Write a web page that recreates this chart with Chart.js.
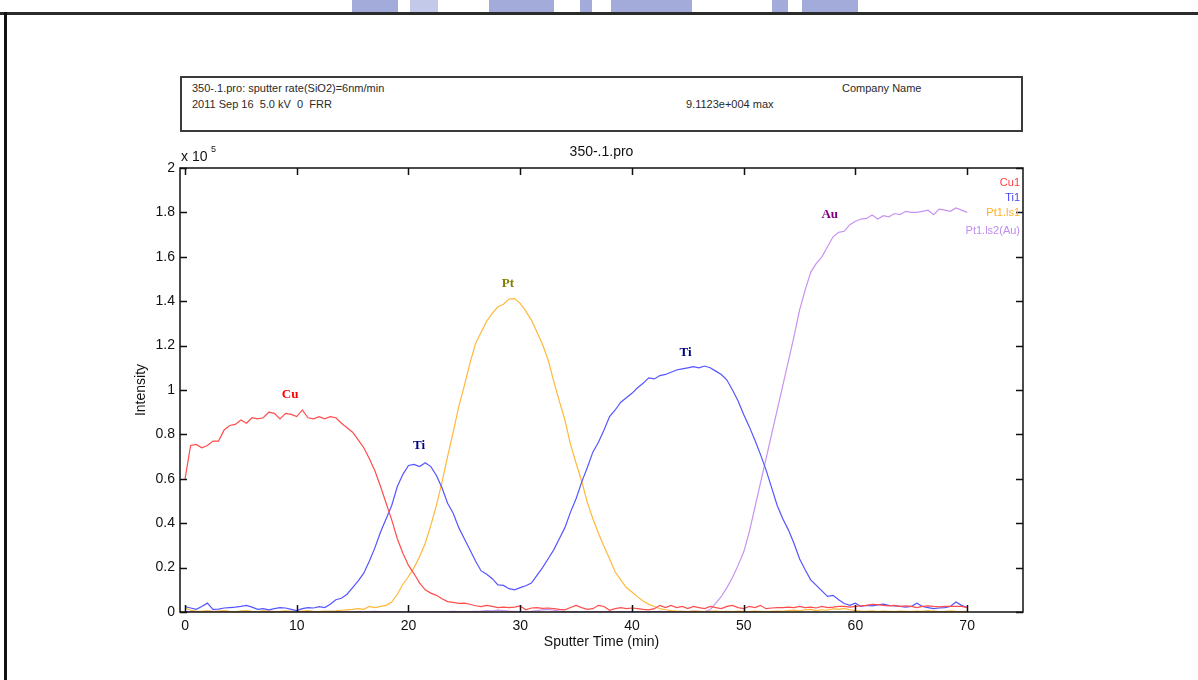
<!DOCTYPE html>
<html>
<head>
<meta charset="utf-8">
<script src="https://cdn.jsdelivr.net/npm/chart.js@4.4.1/dist/chart.umd.min.js"></script>
<style>
  html, body { margin: 0; padding: 0; background: #fff; }
  body { width: 1198px; height: 680px; position: relative; overflow: hidden;
         font-family: "Liberation Sans", Arial, sans-serif; }
  #frame-top { position: absolute; left: 0; top: 12px; width: 1198px; height: 3px; background: #2b2b2b; }
  #frame-left { position: absolute; left: 4px; top: 12px; width: 3px; height: 668px; background: #111; }
  .wm { position: absolute; top: 0; height: 12px; background: #a3abdb; }
  #info { position: absolute; left: 180px; top: 76px; width: 843px; height: 56px; box-sizing: border-box;
          border: 2px solid #3a3a3a; font-size: 11px; color: #2a2a2a; z-index: 2; background: #fff; }
  #info span { position: absolute; white-space: nowrap; line-height: 1; }
  #chart { position: absolute; left: 0; top: 0; }
</style>
</head>
<body>
<div class="wm" style="left:352px;width:46px"></div>
<div class="wm" style="left:410px;width:28px;background:#c3c9e8"></div>
<div class="wm" style="left:489px;width:65px"></div>
<div class="wm" style="left:580px;width:12px"></div>
<div class="wm" style="left:611px;width:81px"></div>
<div class="wm" style="left:772px;width:16px"></div>
<div class="wm" style="left:802px;width:56px"></div>
<div id="frame-top"></div>
<div id="frame-left"></div>

<div id="info">
  <span style="left:10px;top:5px">350-.1.pro: sputter rate(SiO2)=6nm/min</span>
  <span style="left:10px;top:21px">2011 Sep 16&nbsp; 5.0 kV&nbsp; 0&nbsp; FRR</span>
  <span style="left:504px;top:21px">9.1123e+004 max</span>
  <span style="left:660px;top:5px">Company Name</span>
</div>

<canvas id="chart" width="1198" height="680"></canvas>

<script>
// Sputter time in minutes (sampling grid of the depth profile)
const timeMin = [
  0,0.5,1,1.5,2,2.5,3,3.5,4,4.5,
  5,5.5,6,6.5,7,7.5,8,8.5,9,9.5,
  10,10.5,11,11.5,12,12.5,13,13.5,14,14.5,
  15,15.5,16,16.5,17,17.5,18,18.5,19,19.5,
  20,20.5,21,21.5,22,22.5,23,23.5,24,24.5,
  25,25.5,26,26.5,27,27.5,28,28.5,29,29.5,
  30,30.5,31,31.5,32,32.5,33,33.5,34,34.5,
  35,35.5,36,36.5,37,37.5,38,38.5,39,39.5,
  40,40.5,41,41.5,42,42.5,43,43.5,44,44.5,
  45,45.5,46,46.5,47,47.5,48,48.5,49,49.5,
  50,50.5,51,51.5,52,52.5,53,53.5,54,54.5,
  55,55.5,56,56.5,57,57.5,58,58.5,59,59.5,
  60,60.5,61,61.5,62,62.5,63,63.5,64,64.5,
  65,65.5,66,66.5,67,67.5,68,68.5,69,69.5,
  70
];

// Intensities in units of 1e5 counts
const cu1 = [
  0.60,0.75,0.755,0.74,0.75,0.77,0.77,0.82,0.84,0.845,
  0.865,0.85,0.875,0.87,0.875,0.90,0.895,0.87,0.895,0.89,
  0.88,0.91,0.875,0.87,0.88,0.87,0.88,0.875,0.85,0.83,
  0.81,0.775,0.74,0.69,0.635,0.565,0.49,0.415,0.33,0.265,
  0.21,0.172,0.13,0.10,0.085,0.075,0.06,0.047,0.043,0.039,
  0.04,0.035,0.028,0.024,0.03,0.025,0.02,0.022,0.02,0.022,
  0.027,0.01,0.018,0.02,0.016,0.018,0.015,0.012,0.01,0.02,
  0.03,0.02,0.012,0.015,0.03,0.025,0.008,0.015,0.02,0.015,
  0.018,0.015,0.012,0.01,0.015,0.03,0.02,0.03,0.02,0.025,
  0.015,0.025,0.02,0.015,0.025,0.02,0.015,0.025,0.03,0.02,
  0.015,0.025,0.02,0.03,0.015,0.018,0.02,0.02,0.022,0.02,
  0.025,0.02,0.022,0.018,0.025,0.02,0.022,0.025,0.025,0.022,
  0.025,0.028,0.03,0.035,0.033,0.03,0.028,0.03,0.025,0.028,
  0.025,0.02,0.025,0.028,0.025,0.023,0.025,0.025,0.025,0.025,
  0.02
];

const ti1 = [
  0.024,0.018,0.012,0.025,0.04,0.012,0.013,0.018,0.02,0.022,
  0.025,0.03,0.022,0.012,0.015,0.01,0.015,0.02,0.018,0.012,
  0.006,0.015,0.02,0.018,0.024,0.02,0.035,0.055,0.062,0.08,
  0.11,0.14,0.175,0.23,0.29,0.36,0.42,0.48,0.565,0.62,
  0.66,0.665,0.655,0.672,0.655,0.615,0.56,0.49,0.445,0.38,
  0.33,0.28,0.23,0.185,0.17,0.15,0.122,0.12,0.105,0.10,
  0.11,0.118,0.13,0.165,0.20,0.24,0.28,0.33,0.38,0.45,
  0.51,0.585,0.65,0.72,0.765,0.82,0.88,0.91,0.945,0.965,
  0.985,1.01,1.03,1.055,1.05,1.065,1.07,1.08,1.09,1.095,
  1.10,1.105,1.10,1.108,1.10,1.085,1.07,1.045,1.0,0.95,
  0.89,0.835,0.775,0.71,0.64,0.56,0.48,0.42,0.37,0.31,
  0.24,0.19,0.145,0.12,0.095,0.07,0.075,0.055,0.038,0.03,
  0.04,0.025,0.03,0.028,0.032,0.035,0.03,0.028,0.025,0.022,
  0.025,0.04,0.025,0.02,0.015,0.018,0.02,0.025,0.045,0.03,
  0.02
];

const pt1ls1 = [
  0.018,0.008,0.004,0.003,0.005,0.002,0.004,0.006,0.003,0.002,
  0.004,0.006,0.003,0.002,0.005,0.004,0.002,0.003,0.005,0.003,
  0.002,0.004,0.006,0.003,0.002,0.004,0.003,0.005,0.008,0.01,
  0.012,0.015,0.012,0.025,0.02,0.025,0.03,0.045,0.08,0.125,
  0.16,0.20,0.25,0.31,0.39,0.48,0.585,0.70,0.81,0.925,
  1.02,1.12,1.21,1.26,1.31,1.345,1.375,1.386,1.41,1.412,
  1.39,1.355,1.315,1.26,1.205,1.135,1.04,0.95,0.865,0.755,
  0.67,0.59,0.495,0.42,0.355,0.295,0.24,0.18,0.145,0.11,
  0.09,0.068,0.05,0.035,0.025,0.015,0.01,0.006,0.004,0.003,
  0.002,0.004,0.003,0.002,0.003,0.004,0.002,0.003,0.002,0.004,
  0.003,0.002,0.004,0.003,0.002,0.003,0.004,0.003,0.006,0.008,
  0.005,0.01,0.012,0.006,0.01,0.008,0.015,0.012,0.016,0.01,
  0.006,0.004,0.003,0.005,0.002,0.004,0.003,0.002,0.004,0.003,
  0.002,0.004,0.003,0.006,0.004,0.002,0.003,0.005,0.003,0.002,
  0.003
];

const pt1ls2Au = [
  0.003,0.002,0.001,0.002,0.004,0.003,0.002,0.004,0.002,0.001,
  0.003,0.005,0.002,0.001,0.002,0.003,0.002,0.001,0.002,0.003,
  0.002,0.001,0.003,0.002,0.001,0.002,0.003,0.002,0.001,0.002,
  0.001,0.002,0.001,0.002,0.003,0.002,0.001,0.002,0.001,0.002,
  0.001,0.002,0.001,0.002,0.001,0.002,0.001,0.002,0.003,0.002,
  0.001,0.002,0.003,0.004,0.006,0.005,0.008,0.006,0.004,0.003,
  0.002,0.001,0.003,0.006,0.01,0.012,0.008,0.004,0.002,0.001,
  0.002,0.001,0.002,0.001,0.002,0.001,0.002,0.001,0.002,0.001,
  0.002,0.001,0.002,0.001,0.002,0.003,0.002,0.001,0.002,0.003,
  0.002,0.004,0.003,0.002,0.01,0.04,0.07,0.11,0.155,0.21,
  0.27,0.36,0.47,0.58,0.69,0.80,0.91,1.02,1.13,1.24,
  1.36,1.45,1.53,1.57,1.60,1.645,1.69,1.71,1.715,1.745,
  1.76,1.77,1.773,1.788,1.77,1.785,1.78,1.795,1.79,1.805,
  1.80,1.80,1.805,1.81,1.79,1.815,1.81,1.805,1.82,1.81,
  1.80
];

const seriesNames = ['Cu1', 'Ti1', 'Pt1.ls1', 'Pt1.ls2(Au)'];
const xTickValues = [0, 10, 20, 30, 40, 50, 60, 70];
const xTickLabels = ['0', '10', '20', '30', '40', '50', '60', '70'];
const yTickValues = [0, 0.2, 0.4, 0.6, 0.8, 1, 1.2, 1.4, 1.6, 1.8, 2];
const yTickLabels = ['0', '0.2', '0.4', '0.6', '0.8', '1', '1.2', '1.4', '1.6', '1.8', '2'];

// Element tags placed over the peaks: [text, time, intensity]
const peakTags = [
  ['Cu', 9.4, 0.98],
  ['Ti', 20.95, 0.75],
  ['Pt', 28.9, 1.48],
  ['Ti', 44.8, 1.17],
  ['Au', 57.7, 1.79]
];

const lineColors = ['#ff4d4d', '#5555ff', '#ffb83a', '#c793f0'];
const legendColors = ['#ff3b3b', '#4444ff', '#ffb020', '#c08cf0'];
const tagColors = { Cu: '#ff0000', Ti: '#000080', Pt: '#808000', Au: '#800080' };
const SANS = '"Liberation Sans", Arial, sans-serif';
const SERIF = '"Liberation Serif", "Times New Roman", serif';

const toPoints = vals => vals.map((v, i) => ({ x: timeMin[i], y: v }));
const seriesValues = [cu1, ti1, pt1ls1, pt1ls2Au];

// Frame, inner ticks, titles, legend and peak tags
const decor = {
  id: 'decor',
  afterDatasetsDraw(chart) {
    const { ctx, chartArea: a, scales: { x, y } } = chart;
    ctx.save();
    ctx.strokeStyle = '#111';
    ctx.lineWidth = 1.5;
    ctx.strokeRect(a.left, a.top, a.right - a.left, a.bottom - a.top);

    ctx.beginPath();
    xTickValues.forEach(v => {
      const px = Math.round(x.getPixelForValue(v)) + 0.5;
      ctx.moveTo(px, a.bottom); ctx.lineTo(px, a.bottom - 7);
      ctx.moveTo(px, a.top); ctx.lineTo(px, a.top + 7);
    });
    yTickValues.forEach(v => {
      const py = Math.round(y.getPixelForValue(v)) + 0.5;
      ctx.moveTo(a.left, py); ctx.lineTo(a.left + 7, py);
      ctx.moveTo(a.right, py); ctx.lineTo(a.right - 7, py);
    });
    ctx.stroke();

    // chart title
    ctx.fillStyle = '#111';
    ctx.font = '14px ' + SANS;
    ctx.textAlign = 'center';
    ctx.textBaseline = 'middle';
    ctx.fillText('350-.1.pro', (a.left + a.right) / 2, a.top - 16);

    // axis titles
    ctx.fillText('Sputter Time (min)', (a.left + a.right) / 2, a.bottom + 30);
    ctx.save();
    ctx.translate(a.left - 39, (a.top + a.bottom) / 2);
    ctx.rotate(-Math.PI / 2);
    ctx.fillText('Intensity', 0, 0);
    ctx.restore();

    // exponent multiplier
    ctx.textAlign = 'left';
    ctx.fillText('x 10', a.left + 1, a.top - 11);
    ctx.font = '9px ' + SANS;
    ctx.fillText('5', a.left + 31, a.top - 18);

    // legend, right aligned inside the frame
    ctx.font = '11px ' + SANS;
    ctx.textAlign = 'right';
    const legendY = [15, 30, 45, 63];
    seriesNames.forEach((n, i) => {
      ctx.fillStyle = legendColors[i];
      ctx.fillText(n, a.right - 3, a.top + legendY[i]);
    });

    // peak tags
    ctx.font = 'bold 13px ' + SERIF;
    ctx.textAlign = 'center';
    peakTags.forEach(([t, tx, ty]) => {
      ctx.fillStyle = tagColors[t];
      ctx.fillText(t, x.getPixelForValue(tx), y.getPixelForValue(ty));
    });
    ctx.restore();
  }
};

new Chart(document.getElementById('chart'), {
  type: 'line',
  data: {
    datasets: seriesNames.map((n, i) => ({
      label: n,
      data: toPoints(seriesValues[i]),
      borderColor: lineColors[i],
      borderWidth: 1.2,
      pointRadius: 0,
      tension: 0,
      fill: false
    }))
  },
  options: {
    responsive: false,
    animation: false,
    devicePixelRatio: 1,
    layout: { padding: { left: 0, top: 168, right: 175, bottom: 28 } },
    plugins: { legend: { display: false }, tooltip: { enabled: false }, title: { display: false } },
    scales: {
      x: {
        type: 'linear',
        min: -0.45,
        max: 75,
        afterBuildTicks: s => { s.ticks = xTickValues.map(v => ({ value: v })); },
        afterFit: s => { s.height = 40; },
        grid: { display: false, drawTicks: false },
        border: { display: false },
        ticks: {
          padding: 6, color: '#111', maxRotation: 0, autoSkip: false,
          font: { size: 14, family: SANS },
          callback: (v, i) => xTickLabels[i]
        }
      },
      y: {
        type: 'linear',
        min: 0,
        max: 2,
        afterBuildTicks: s => { s.ticks = yTickValues.map(v => ({ value: v })); },
        afterFit: s => { s.width = 180; },
        grid: { display: false, drawTicks: false },
        border: { display: false },
        ticks: {
          padding: 5, color: '#111', autoSkip: false,
          font: { size: 14, family: SANS },
          callback: (v, i) => yTickLabels[i]
        }
      }
    }
  },
  plugins: [decor]
});
</script>
</body>
</html>
